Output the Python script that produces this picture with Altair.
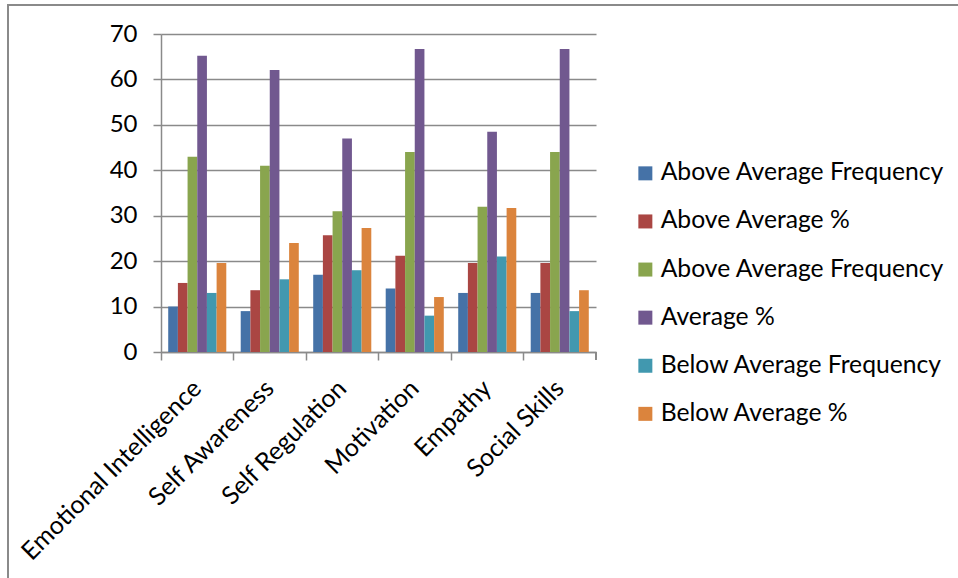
import altair as alt
import pandas as pd

categories = ["Emotional Intelligence", "Self Awareness", "Self Regulation",
              "Motivation", "Empathy", "Social Skills"]
series_keys = ["s1", "s2", "s3", "s4", "s5", "s6"]
series_labels = ["Above Average Frequency", "Above Average %", "Above Average Frequency",
                 "Average %", "Below Average Frequency", "Below Average %"]
series_colors = ["#4572A7", "#AA4643", "#89A54E", "#71588F", "#4198AF", "#DB843D"]

above_freq = [10, 9, 17, 14, 13, 13]
above_pct = [15.2, 13.6, 25.7, 21.2, 19.6, 19.6]
avg_freq = [43, 41, 31, 44, 32, 44]
avg_pct = [65.2, 62.1, 47.0, 66.7, 48.5, 66.7]
below_freq = [13, 16, 18, 8, 21, 9]
below_pct = [19.6, 24.0, 27.3, 12.1, 31.7, 13.6]
y_ticks = [0, 10, 20, 30, 40, 50, 60, 70]

series_values = [above_freq, above_pct, avg_freq, avg_pct, below_freq, below_pct]
rows = []
for key, vals in zip(series_keys, series_values):
    for c, v in zip(categories, vals):
        rows.append({"category": c, "series": key, "value": v})
df = pd.DataFrame(rows)

label_expr = ""
for k, lab in zip(series_keys, series_labels):
    label_expr += f"datum.value == '{k}' ? '{lab}' : "
label_expr += "''"

W, H = 435, 318
FONT = "Lato"
GREY = "#8a8a8a"

bars = alt.Chart(df).mark_bar().encode(
    x=alt.X("category:N", sort=categories, scale=alt.Scale(paddingInner=0, paddingOuter=0),
            axis=alt.Axis(title=None, labelAngle=-45, labelAlign="right", labelBaseline="middle",
                          bandPosition=0, tickSize=8, labelPadding=24, grid=False,
                          domainColor=GREY, tickColor=GREY, domainWidth=1.5, tickWidth=1.5,
                          labelFont=FONT, labelFontSize=25, labelColor="#000",
                          labelOffset=0, labelOverlap=False, labelLimit=500)),
    xOffset=alt.XOffset("series:N", sort=series_keys,
                        scale=alt.Scale(paddingInner=0, paddingOuter=0.745)),
    y=alt.Y("value:Q", scale=alt.Scale(domain=[0, 70], nice=False),
            axis=alt.Axis(title=None, values=y_ticks, tickSize=8, labelPadding=16,
                          grid=True, gridColor=GREY, gridWidth=1.5,
                          domainColor=GREY, tickColor=GREY, domainWidth=1.5, tickWidth=1.5,
                          labelFont=FONT, labelFontSize=24, labelColor="#000")),
    color=alt.Color("series:N", sort=series_keys,
                    scale=alt.Scale(domain=series_keys, range=series_colors),
                    legend=alt.Legend(title=None, orient="none", legendX=472, legendY=127,
                                      symbolType="square", symbolSize=196, symbolStrokeWidth=0,
                                      labelFont=FONT, labelFontSize=24.7, labelColor="#000",
                                      labelExpr=label_expr, rowPadding=22.1, labelOffset=3,
                                      labelLimit=500)),
)

end_tick = alt.Chart(df).mark_rule(color=GREY, strokeWidth=1.5).encode(
    x=alt.value(W), y=alt.value(H), y2=alt.value(H + 8)
)

frame = alt.Chart(df).mark_rect(fill="transparent", stroke=GREY, strokeWidth=1.5).encode(
    x=alt.value(-153), y=alt.value(-29), x2=alt.value(1000), y2=alt.value(700)
)

chart = alt.layer(frame, bars, end_tick).properties(
    width=W, height=H,
    autosize=alt.AutoSizeParams(type="none"),
    padding={"left": 161, "top": 34, "right": 958 - 161 - W, "bottom": 578 - 34 - H},
    background="white",
).configure_view(stroke=None)

chart.save("out.html", embed_options={"renderer": "svg", "actions": False})
